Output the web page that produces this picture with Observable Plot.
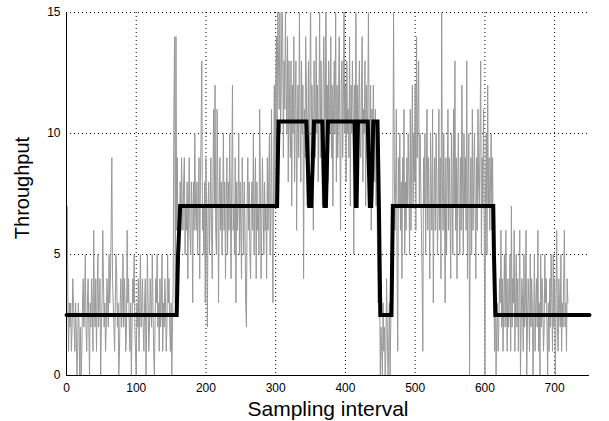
<!DOCTYPE html>
<html><head><meta charset="utf-8">
<script src="https://cdn.jsdelivr.net/npm/d3@7"></script>
<script src="https://cdn.jsdelivr.net/npm/@observablehq/plot@0.6"></script>
<style>body{margin:0;background:#fff}</style>
</head><body><div id="chart"></div>
<script>
// Gray series: measured throughput per sampling interval (index = interval)
const throughput = [
 5,7,3,1,3,2,3,1,2,4,3,2,1,3,2,0,1,3,2,0,
 2,0,1,3,4,2,3,5,2,1,3,4,2,0,3,2,4,3,1,6,
 3,2,4,1,3,5,2,3,4,0,2,3,6,4,2,3,1,2,4,3,
 2,5,3,4,6,9,4,3,2,1,3,5,4,2,3,0,1,3,4,2,
 3,5,2,4,3,1,2,6,3,4,2,1,3,0,2,4,3,5,2,1,
 0,3,2,4,1,3,5,2,3,4,2,1,3,4,0,2,5,3,1,2,
 4,3,2,5,3,1,0,2,4,3,5,2,3,1,4,2,3,5,1,3,
 2,4,3,1,2,5,3,4,2,1,3,0,2,4,
 11,14,3,14,6,9,4,7,5,8,6,9,
 7,6,8,9,5,7,6,8,4,7,9,6,5,8,7,3,8,6,10,7,
 6,8,5,7,9,4,8,10,13,6,7,5,8,3,9,6,2,7,8,5,
 7,9,6,4,8,11,7,12,6,5,11,8,3,7,9,6,8,5,7,10,
 6,8,4,7,9,5,8,6,10,7,4,8,12,6,7,5,9,3,8,6,
 7,10,5,8,6,4,9,7,5,8,6,3,2,7,9,6,8,5,4,7,
 8,6,10,5,7,9,4,8,6,7,5,11,8,4,6,9,7,5,8,6,
 7,4,9,6,8,10,5,7,11,6,3,8,12,7,
 12,14,9,16,13,11,15,10,12,16,14,9,13,11,15,12,10,14,8,13,
 11,9,13,7,12,10,14,8,11,13,6,10,12,9,15,11,8,13,10,12,
 4,11,9,14,12,7,10,13,8,11,16,9,12,10,6,13,11,9,14,10,
 12,8,11,15,9,13,10,7,12,14,11,9,16,10,12,8,13,11,10,14,
 9,12,7,11,13,10,15,8,12,9,11,14,10,6,12,13,9,11,16,10,
 12,8,13,10,11,9,14,7,12,10,13,11,5,12,9,15,10,12,8,11,
 13,10,9,12,14,8,11,10,13,7,12,9,11,15,10,8,12,6,11,9,
 12,10,8,11,7,9,5,3,7,4,
 0,2,1,0,3,1,2,0,1,4,2,0,1,3,0,2,5,6,
 7,15,9,6,8,11,5,1,9,7,10,6,8,4,9,7,11,5,8,6,
 9,7,10,8,5,11,6,9,12,7,10,8,12,6,14,9,11,13,7,10,
 8,6,4,1,9,7,10,5,8,11,6,9,7,4,10,8,6,11,3,7,
 9,6,10,8,5,7,11,6,9,4,15,8,6,10,7,3,9,5,8,11,
 6,9,7,4,10,8,5,11,7,13,6,9,4,8,10,7,5,9,6,12,
 8,5,10,7,9,6,13,4,8,10,0,7,9,5,11,6,8,10,7,4,
 9,6,11,8,7,10,13,5,9,7,11,6,0,8,10,5,12,7,9,6,
 8,10,6,9,5,
 3,1,4,0,2,3,1,2,4,3,6,2,4,1,3,5,2,6,3,1,
 4,2,3,5,1,7,2,4,3,6,1,3,5,2,4,1,3,6,0,2,
 4,3,1,5,2,3,6,0,2,4,3,1,5,2,4,3,0,2,5,1,
 3,4,2,6,1,3,0,5,2,4,3,1,2,5,3,4,2,0,3,1,
 4,2,5,3,1,5,2,4,0,3,6,2,1,4,3,2,5,1,3,2,
 4,6,2,3,1,4,3
];
// Black series: estimated throughput level (breakpoints)
const stepX = [0,158,160,163,302,304,344,348,351,355,367,370,372,375,413,415,416,418,432,435,437,440,446,448,450,466,468,612,613,615,750];
const stepY = [2.5,2.5,5,7,7,10.5,10.5,7,7,10.5,10.5,7,7,10.5,10.5,7,7,10.5,10.5,7,7,10.5,10.5,7,2.5,2.5,7,7,5,2.5,2.5];
const xTicks = [0,100,200,300,400,500,600,700];
const yTicks = [0,5,10,15];

const gray = throughput.map((v, i) => ({x: i, y: v}));
const step = stepX.map((x, i) => ({x, y: stepY[i]}));

const chart = Plot.plot({
  width: 609, height: 421,
  marginLeft: 66, marginRight: 20, marginTop: 12, marginBottom: 46,
  x: {domain: [0, 750]},
  y: {domain: [0, 15]},
  style: {fontFamily: "'Liberation Sans', Arial, sans-serif", fontSize: "12px", color: "black", background: "white"},
  marks: [
    Plot.ruleX(xTicks.filter(d => d > 0), {stroke: "black", strokeDasharray: "1,3"}),
    Plot.ruleY(yTicks.filter(d => d > 0), {stroke: "black", strokeDasharray: "1,3"}),
    Plot.line(gray, {x: "x", y: "y", stroke: "#989898", strokeWidth: 1, clip: true}),
    Plot.line(step, {x: "x", y: "y", stroke: "black", strokeWidth: 4, strokeLinejoin: "miter", strokeMiterlimit: 10}),
    Plot.ruleX([0], {stroke: "black"}),
    Plot.ruleY([0], {stroke: "black"}),
    Plot.axisX({ticks: xTicks, tickSize: 0, tickPadding: 8, label: null, fontSize: 12}),
    Plot.axisY({ticks: yTicks, tickSize: 0, tickPadding: 6, label: null, fontSize: 12}),
    Plot.text(["Sampling interval"], {frameAnchor: "bottom", dy: 34, fontSize: 21, textAnchor: "middle", lineAnchor: "middle"}),
    Plot.text(["Throughput"], {frameAnchor: "left", dx: -44, dy: -6, rotate: -90, fontSize: 20, textAnchor: "middle", lineAnchor: "middle"})
  ]
});
document.getElementById("chart").appendChild(chart);
</script>
</body></html>
